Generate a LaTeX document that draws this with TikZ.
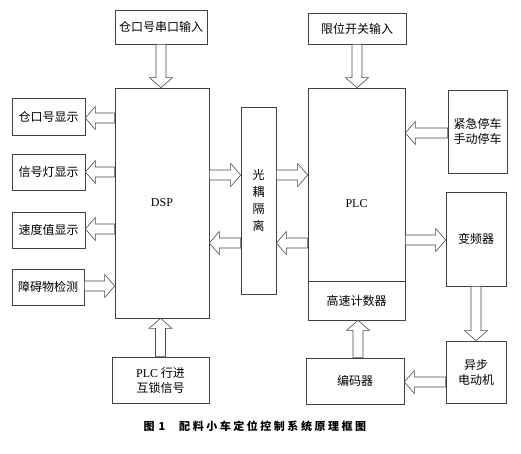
\documentclass[tikz,border=0pt]{standalone}
\usepackage{fontspec}
\setmainfont{Liberation Serif}
\newfontfamily\cjk{Noto Sans CJK SC}
\newfontfamily\capfont[LetterSpace=23]{Noto Sans CJK SC}
\usetikzlibrary{calc}
\newcommand\lat[1]{{\rmfamily #1}}
\tikzset{
  box/.style={draw=black!75, line width=0.7pt, inner sep=0pt, align=center,
    font=\cjk\fontsize{12}{15}\selectfont},
  arrline/.style={draw=black!70, line width=0.6pt, fill=white, line join=miter},
}
\newcommand\blkarrow[2]{%
  \coordinate (hb) at ($(#2)!10pt!(#1)$);
  \draw[arrline] ($(#1)!5pt!90:(#2)$) -- ($(hb)!5pt!90:(#2)$) -- ($(hb)!11.5pt!90:(#2)$)
    -- (#2) -- ($(hb)!11.5pt!-90:(#2)$) -- ($(hb)!5pt!-90:(#2)$) -- ($(#1)!5pt!-90:(#2)$) -- cycle;}
\begin{document}
\begin{tikzpicture}[x=1pt,y=-1pt]
\useasboundingbox (0,0) rectangle (521,453);
% DSP side
\node[box, minimum width=92, minimum height=34] (in1) at (161,27) {仓口号串口输入};
\node[box, minimum width=94, minimum height=230] (dsp) at (162,203) {\lat{DSP}};
\node[box, minimum width=73, minimum height=37] (d1) at (48.5,116.5) {仓口号显示};
\node[box, minimum width=73, minimum height=36] (d2) at (48.5,172) {信号灯显示};
\node[box, minimum width=73, minimum height=36] (d3) at (48.5,230) {速度值显示};
\node[box, minimum width=72, minimum height=36] (d4) at (48,287) {障碍物检测};
\node[box, minimum width=97, minimum height=46] (in3) at (160.5,380) {\lat{PLC} 行进\\互锁信号};
% coupler
\node[box, minimum width=35, minimum height=187, font=\cjk\fontsize{12}{17}\selectfont] (oc) at (258.5,200.5) {光\\耦\\隔\\离};
% PLC side
\node[box, minimum width=98, minimum height=31] (in2) at (357,28.5) {限位开关输入};
\node[box, minimum width=97, minimum height=232] (plc) at (356.5,204) {\lat{PLC}};
\coordinate (divl) at (308,281);
\coordinate (divr) at (405,281);
\draw[draw=black!75, line width=0.7pt] (plc.west |- divl) -- (plc.east |- divr);
\node[font=\cjk\fontsize{12}{15}\selectfont] (hsc) at (356.5,300.5) {高速计数器};
\node[box, minimum width=59, minimum height=83] (es) at (477.5,131.5) {紧急停车\\手动停车};
\node[box, minimum width=60, minimum height=94] (vfd) at (476,239) {变频器};
\node[box, minimum width=60, minimum height=62] (mot) at (476,372) {异步\\电动机};
\node[box, minimum width=98, minimum height=46] (enc) at (355,381) {编码器};
% arrows
\blkarrow{in1.south}{in1.south |- dsp.north}
\blkarrow{in2.south}{in2.south |- plc.north}
\blkarrow{dsp.west |- 0,118}{d1.east |- 0,118}
\blkarrow{dsp.west |- 0,172}{d2.east |- 0,172}
\blkarrow{dsp.west |- 0,229}{d3.east |- 0,229}
\blkarrow{d4.east |- 0,286}{dsp.west |- 0,286}
\blkarrow{in3.north}{in3.north |- dsp.south}
\blkarrow{dsp.east |- 0,175}{oc.west |- 0,175}
\blkarrow{oc.west |- 0,243}{dsp.east |- 0,243}
\blkarrow{oc.east |- 0,175}{plc.west |- 0,175}
\blkarrow{plc.west |- 0,243}{oc.east |- 0,243}
\blkarrow{es.west |- 0,133}{plc.east |- 0,133}
\blkarrow{plc.east |- 0,240}{vfd.west |- 0,240}
\blkarrow{vfd.south}{vfd.south |- mot.north}
\blkarrow{mot.west |- 0,382}{enc.east |- 0,382}
\blkarrow{enc.north -| 358,0}{plc.south -| 358,0}
% caption
\node[font=\capfont\bfseries\fontsize{11}{13}\selectfont, anchor=west] (cap) at (140,426) {图\hspace{4pt}1\hspace{14pt}配料小车定位控制系统原理框图};
\end{tikzpicture}
\end{document}
